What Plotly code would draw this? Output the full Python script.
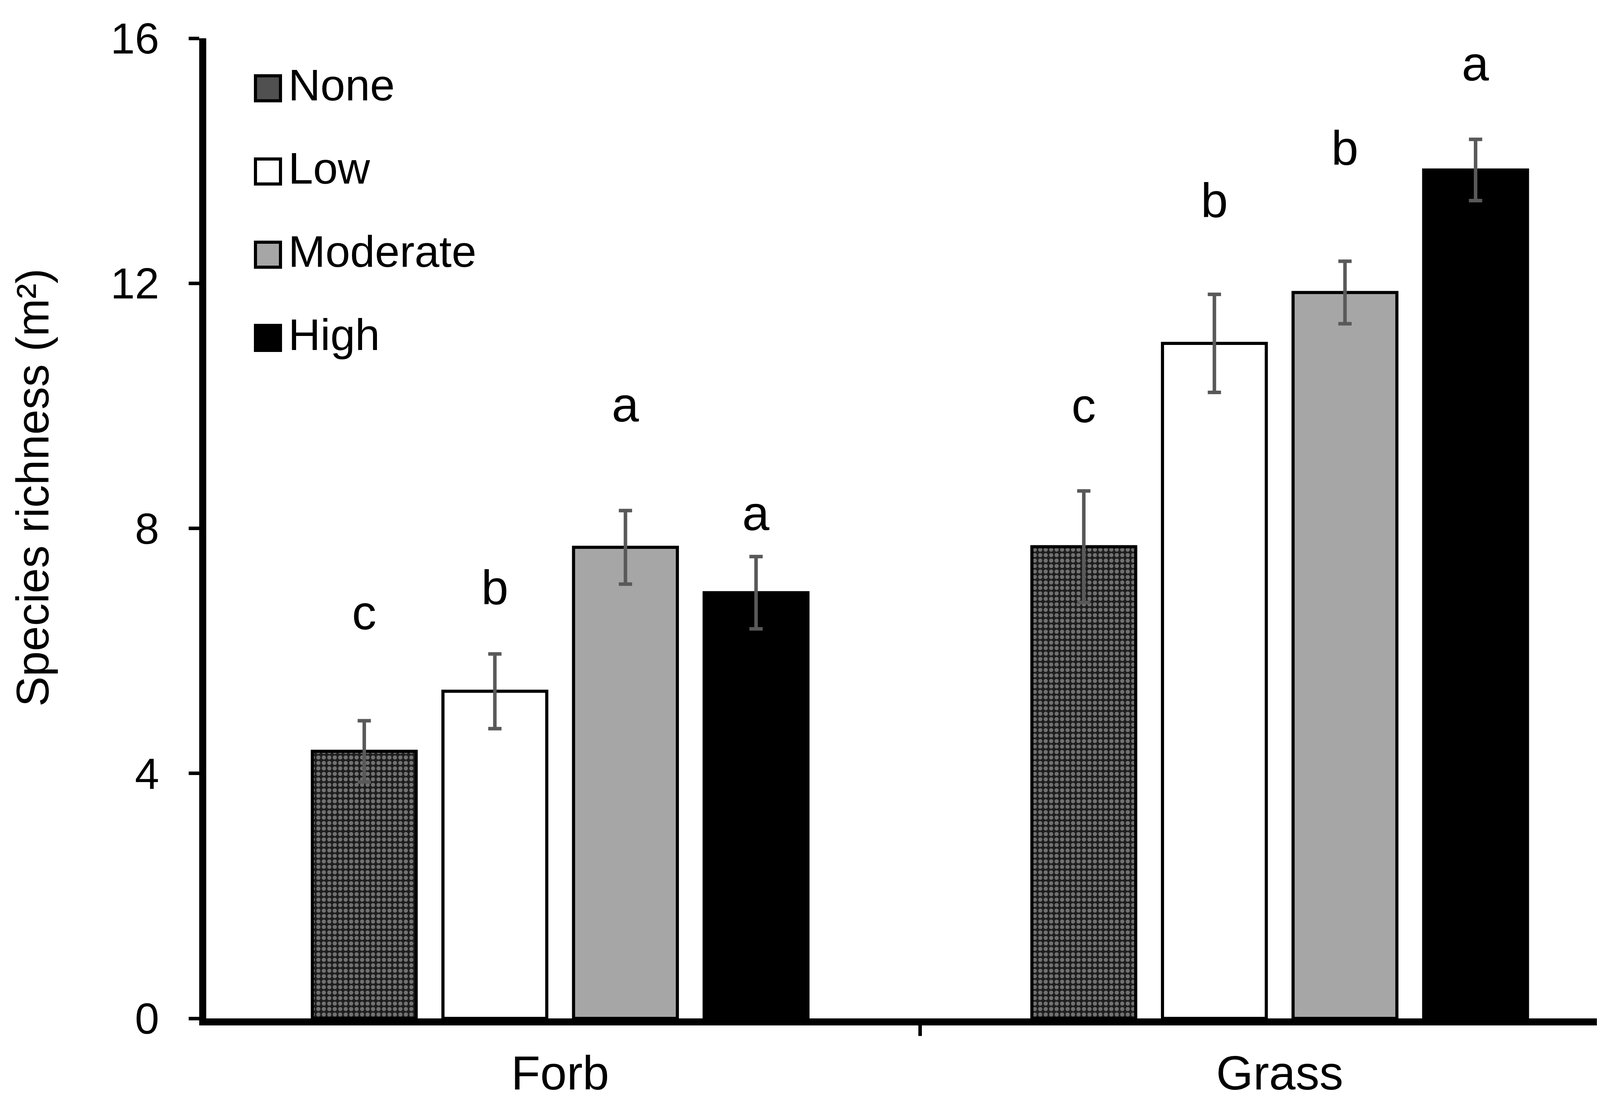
import plotly.graph_objects as go

# ---------------- data ----------------
categories = ["Forb", "Grass"]
treatments = ["None", "Low", "Moderate", "High"]

none_mean = [4.36, 7.70]
low_mean = [5.34, 11.02]
moderate_mean = [7.69, 11.85]
high_mean = [6.95, 13.85]

none_se = [0.50, 0.91]
low_se = [0.61, 0.80]
moderate_se = [0.60, 0.51]
high_se = [0.59, 0.50]

# significance letters per treatment (Forb, Grass)
none_letters = ["c", "c"]
low_letters = ["b", "b"]
moderate_letters = ["a", "b"]
high_letters = ["a", "a"]

# letter heights (data units) per treatment (Forb, Grass)
none_letter_y = [6.54, 9.92]
low_letter_y = [6.95, 13.27]
moderate_letter_y = [9.93, 14.12]
high_letter_y = [8.16, 15.50]

y_ticks = [0, 4, 8, 12, 16]
y_title = "Species richness (m²)"

# ---------------- styles / layout ----------------
FONT = "Liberation Sans, Arial, sans-serif"
W, H = 4126, 2821
ML, MR, MT, MB = 520, 0, 90, 222
CAT_PX = 1842          # pixel width of one category band
BOUNDARY_PX = 505      # pixel where the first category band starts
BARGAP = 0.274
BARGROUPGAP = 0.205

x_lo = -0.5 + (ML - BOUNDARY_PX) / CAT_PX
x_hi = x_lo + (W - ML - MR) / CAT_PX

means = [none_mean, low_mean, moderate_mean, high_mean]
ses = [none_se, low_se, moderate_se, high_se]
letters = [none_letters, low_letters, moderate_letters, high_letters]
letter_ys = [none_letter_y, low_letter_y, moderate_letter_y, high_letter_y]

fills = ["#1e1e1e", "white", "#a6a6a6", "black"]
swatch_fills = ["#505050", "white", "#a6a6a6", "black"]

fig = go.Figure()
for i, t in enumerate(treatments):
    marker = dict(color=fills[i], line=dict(color="black", width=8))
    if t == "None":
        marker["pattern"] = dict(shape=".", fgcolor="#c4c4c4", bgcolor="#1e1e1e",
                                 size=14, solidity=0.45, fillmode="overlay")
    fig.add_trace(go.Bar(
        name=t, x=categories, y=means[i],
        marker=marker,
        error_y=dict(type="data", array=ses[i], visible=True,
                     color="#595959", thickness=9, width=17),
        showlegend=False,
    ))

# letters above bars, positioned via the grouped-bar layout
n = len(treatments)
slot = (1 - BARGAP) / n
annotations = []
for i in range(n):
    off = (i - (n - 1) / 2) * slot
    for j, cat in enumerate(categories):
        annotations.append(dict(
            x=j + off, y=letter_ys[i][j], xref="x", yref="y",
            text=letters[i][j], showarrow=False,
            font=dict(family=FONT, size=125, color="black"),
            xanchor="center", yanchor="middle", yshift=14,
        ))

plot_w = W - ML - MR
plot_h = H - MT - MB

# y-axis title
annotations.append(dict(
    x=(76 - ML) / plot_w, y=(H - MB - 1240) / plot_h,
    xref="paper", yref="paper",
    text=y_title, textangle=-90, showarrow=False,
    font=dict(family=FONT, size=116, color="black"),
    xanchor="center", yanchor="middle",
))

# custom legend (swatches + labels)
sw_x0 = (646 - ML) / plot_w
sw_x1 = (710 - ML) / plot_w
txt_x = (728 - ML) / plot_w
row0 = 218
row_step = 213
half = 32 / plot_h
shapes = []
for i, t in enumerate(treatments):
    yc = (H - MB - (row0 + i * row_step)) / plot_h
    shapes.append(dict(type="rect", xref="paper", yref="paper",
                       x0=sw_x0, x1=sw_x1, y0=yc - half, y1=yc + half,
                       fillcolor=swatch_fills[i],
                       line=dict(color="black", width=8)))
    annotations.append(dict(x=txt_x, y=yc, xref="paper", yref="paper",
                            text=t, showarrow=False,
                            font=dict(family=FONT, size=114, color="black"),
                            xanchor="left", yanchor="middle", yshift=8))

fig.update_layout(
    width=W, height=H,
    margin=dict(l=ML, r=MR, t=MT, b=MB, autoexpand=False),
    paper_bgcolor="white", plot_bgcolor="white",
    barmode="group", bargap=BARGAP, bargroupgap=BARGROUPGAP,
    font=dict(family=FONT, color="black"),
    annotations=annotations, shapes=shapes,
    showlegend=False,
)
fig.update_xaxes(
    type="category", categoryorder="array", categoryarray=categories,
    range=[x_lo, x_hi], showline=True, linecolor="black", linewidth=18,
    ticks="outside", tickson="boundaries", ticklen=27, tickwidth=9,
    tickcolor="black", showgrid=False, zeroline=False,
    tickfont=dict(family=FONT, size=122, color="black"),
    ticklabelstandoff=18,
)
fig.update_yaxes(
    range=[0, 16], tickvals=y_ticks, ticktext=[str(v) for v in y_ticks],
    showline=True, linecolor="black", linewidth=18,
    ticks="outside", ticklen=27, tickwidth=9, tickcolor="black",
    showgrid=False, zeroline=False,
    tickfont=dict(family=FONT, size=112, color="black"),
    ticklabelstandoff=53,
)

fig.write_html("out.html")
